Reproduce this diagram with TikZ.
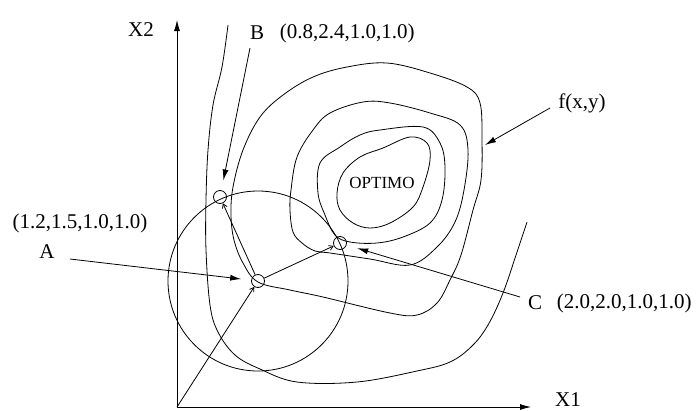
\documentclass[tikz,border=0pt]{standalone}
\usepackage{fontspec}
\setmainfont{Liberation Serif}
\usetikzlibrary{arrows.meta, positioning}

\begin{document}
\begin{tikzpicture}[x=1pt, y=-1pt, line width=0.8pt,
    lbl/.style={inner sep=0pt, font=\fontsize{21}{23}\selectfont},
    pt/.style={circle, draw, minimum size=13pt, inner sep=0pt},
    pointer/.style={-{Latex[length=11pt, width=6pt]}, shorten >=#1},
    pointer/.default=0pt,
    step move/.style={-{Straight Barb[length=4pt, width=5pt]}},
  ]
    \useasboundingbox (0,0) rectangle (698,410);

    % axes
    \coordinate (O) at (177,407);
    \coordinate (ytop) at (177,20);
    \coordinate (xend) at (531,407);
    \draw[pointer] (O) -- (ytop);
    \draw[pointer] (O) -- (xend);
    \node[lbl] (x2) at (141,30) {X2};
    \node[lbl] (x1) at (568,400) {X1};

    % level curves of f
    \draw plot[smooth cycle, tension=0.6] coordinates {
      (410,137) (427,143) (430,160) (423,187) (413,207) (390,223) (370,228)
      (353,223) (340,210) (337,193) (343,173) (360,157) (383,148)};
    \draw plot[smooth cycle, tension=0.6] coordinates {
      (380,130) (423,127) (440,143) (445,167) (442,200) (430,223) (403,237)
      (377,243) (350,242) (335,235) (325,215) (318,193) (320,163) (340,147)
      (360,135)};
    \draw plot[smooth cycle, tension=0.6] coordinates {
      (330,113) (363,102) (390,103) (430,113) (460,125) (468,150) (464,190)
      (455,222) (437,247) (410,265) (370,259) (330,253) (315,251) (302,243)
      (293,232) (290,210) (291,190) (297,157) (313,130)};
    \draw plot[smooth cycle, tension=0.6] coordinates {
      (258,282) (290,290) (323,297) (390,313) (417,315) (437,303) (450,280)
      (461,255) (473,210) (481,180) (482,140) (480,103) (467,87) (430,73)
      (387,63) (347,67) (313,77) (283,95) (260,117) (243,150) (233,187)
      (231,215) (234,240) (243,263)};
    \draw plot[smooth, tension=0.6] coordinates {
      (228,25) (222,67) (213,105) (208,150) (206,200) (206,250) (210,305)
      (218,332) (235,355) (260,369) (297,382) (357,382) (417,371) (450,362)
      (472,346) (488,325) (503,293) (517,252) (527,222)};
    \node[lbl, font=\fontsize{17}{19}\selectfont] (opt) at (382,183) {OPTIMO};

    % search points
    \node[pt] (A) at (258,281) {};
    \node[pt] (B) at (220,197) {};
    \node[pt] (C) at (340,243) {};
    \draw (A.center) circle[radius=90];
    \draw[step move] (O) -- (A);
    \draw[step move] (A) -- (B);
    \draw[step move] (A) -- (C);

    % labels
    \node[lbl] (labA) at (47,252) {A};
    \node[lbl] (valA) at (80,223) {(1.2,1.5,1.0,1.0)};
    \node[lbl] (labB) at (257,33) {B};
    \node[lbl, right=15pt of labB] (valB) {(0.8,2.4,1.0,1.0)};
    \node[lbl] (labC) at (535,303) {C};
    \node[lbl, right=14pt of labC] (valC) {(2.0,2.0,1.0,1.0)};
    \node[lbl] (labf) at (582,103) {f(x,y)};

    \coordinate (tailA) at (70,259);
    \coordinate (tailB) at (250,48);
    \coordinate (tailC) at (520,297);
    \coordinate (tailf) at (550,108);
    \coordinate (headf) at (485,145);
    \draw[pointer=10pt] (tailA) -- (A);
    \draw[pointer=10pt] (tailB) -- (B);
    \draw[pointer=11pt] (tailC) -- (C);
    \draw[pointer] (tailf) -- (headf);
  \end{tikzpicture}
\end{document}
